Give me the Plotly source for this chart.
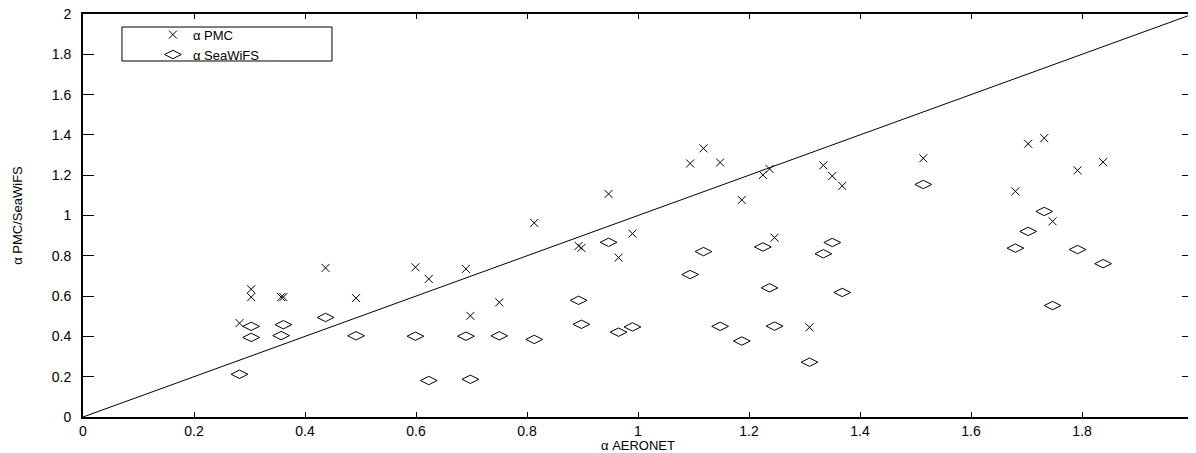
import plotly.graph_objects as go

# AERONET Angstrom exponent (shared x for both series)
aeronet = [0.282, 0.303, 0.303, 0.357, 0.361, 0.437, 0.492, 0.599, 0.623, 0.690,
           0.698, 0.750, 0.813, 0.893, 0.898, 0.947, 0.965, 0.990, 1.094, 1.118,
           1.148, 1.187, 1.225, 1.237, 1.246, 1.309, 1.334, 1.350, 1.368, 1.514,
           1.680, 1.703, 1.732, 1.747, 1.792, 1.838]

pmc = [0.466, 0.634, 0.595, 0.595, 0.595, 0.740, 0.590, 0.743, 0.685, 0.735,
       0.502, 0.569, 0.963, 0.849, 0.839, 1.107, 0.791, 0.910, 1.258, 1.333,
       1.263, 1.077, 1.201, 1.231, 0.890, 0.445, 1.249, 1.196, 1.147, 1.284,
       1.120, 1.356, 1.384, 0.971, 1.224, 1.265]

seawifs = [0.212, 0.450, 0.395, 0.404, 0.458, 0.494, 0.403, 0.401, 0.181, 0.401,
           0.187, 0.403, 0.385, 0.579, 0.460, 0.867, 0.421, 0.447, 0.707, 0.821,
           0.450, 0.377, 0.844, 0.641, 0.451, 0.272, 0.810, 0.866, 0.618, 1.154,
           0.838, 0.921, 1.020, 0.553, 0.831, 0.761]

one_to_one = [0, 2]

tick_vals = [0, 0.2, 0.4, 0.6, 0.8, 1, 1.2, 1.4, 1.6, 1.8, 2]
tick_text = ["0", "0.2", "0.4", "0.6", "0.8", "1", "1.2", "1.4", "1.6", "1.8", "2"]

FONT = "Liberation Sans, Arial, Helvetica, sans-serif"

fig = go.Figure()
fig.add_trace(go.Scatter(x=one_to_one, y=one_to_one, mode="lines",
                         line=dict(color="black", width=1), showlegend=False,
                         hoverinfo="skip"))
fig.add_trace(go.Scatter(x=aeronet, y=pmc, mode="markers", name="α PMC",
                         marker=dict(symbol="x-thin-open", size=8, color="black",
                                     line=dict(color="black", width=1))))
fig.add_trace(go.Scatter(x=aeronet, y=seawifs, mode="markers", name="α SeaWiFS",
                         marker=dict(symbol="diamond-wide-open", size=12, color="black",
                                     line=dict(color="black", width=1))))

axis_common = dict(range=[0, 2], tickvals=tick_vals, ticktext=tick_text,
                   showgrid=False, zeroline=False, showline=True, linecolor="black",
                   linewidth=2, mirror="ticks", ticks="inside", tickcolor="black",
                   tickwidth=1, automargin=False, ticklabeloverflow="allow",
                   tickfont=dict(family=FONT, size=14, color="black"))

fig.update_xaxes(**axis_common, ticklen=5,
                 title=dict(text="α AERONET", font=dict(family=FONT, size=13, color="black"),
                            standoff=0))
fig.update_yaxes(**axis_common, ticklen=11, ticklabelstandoff=7,
                 title=dict(text="α PMC/SeaWiFS", font=dict(family=FONT, size=13, color="black"),
                            standoff=26))

fig.add_shape(type="rect", xref="paper", yref="paper",
              x0=0.0351, x1=0.2243, y0=0.8834, y1=0.9677,
              line=dict(color="black", width=1), fillcolor="white", layer="below")

fig.update_layout(
    width=1188, height=445,
    margin=dict(l=75, r=3, t=6, b=36, autoexpand=False),
    paper_bgcolor="white", plot_bgcolor="white",
    legend=dict(x=0.063, y=0.986, xanchor="left", yanchor="top",
                bgcolor="rgba(0,0,0,0)", borderwidth=0,
                font=dict(family=FONT, size=13, color="black"),
                tracegroupgap=0, itemsizing="trace"),
    showlegend=True,
)

fig.write_html("out.html")
